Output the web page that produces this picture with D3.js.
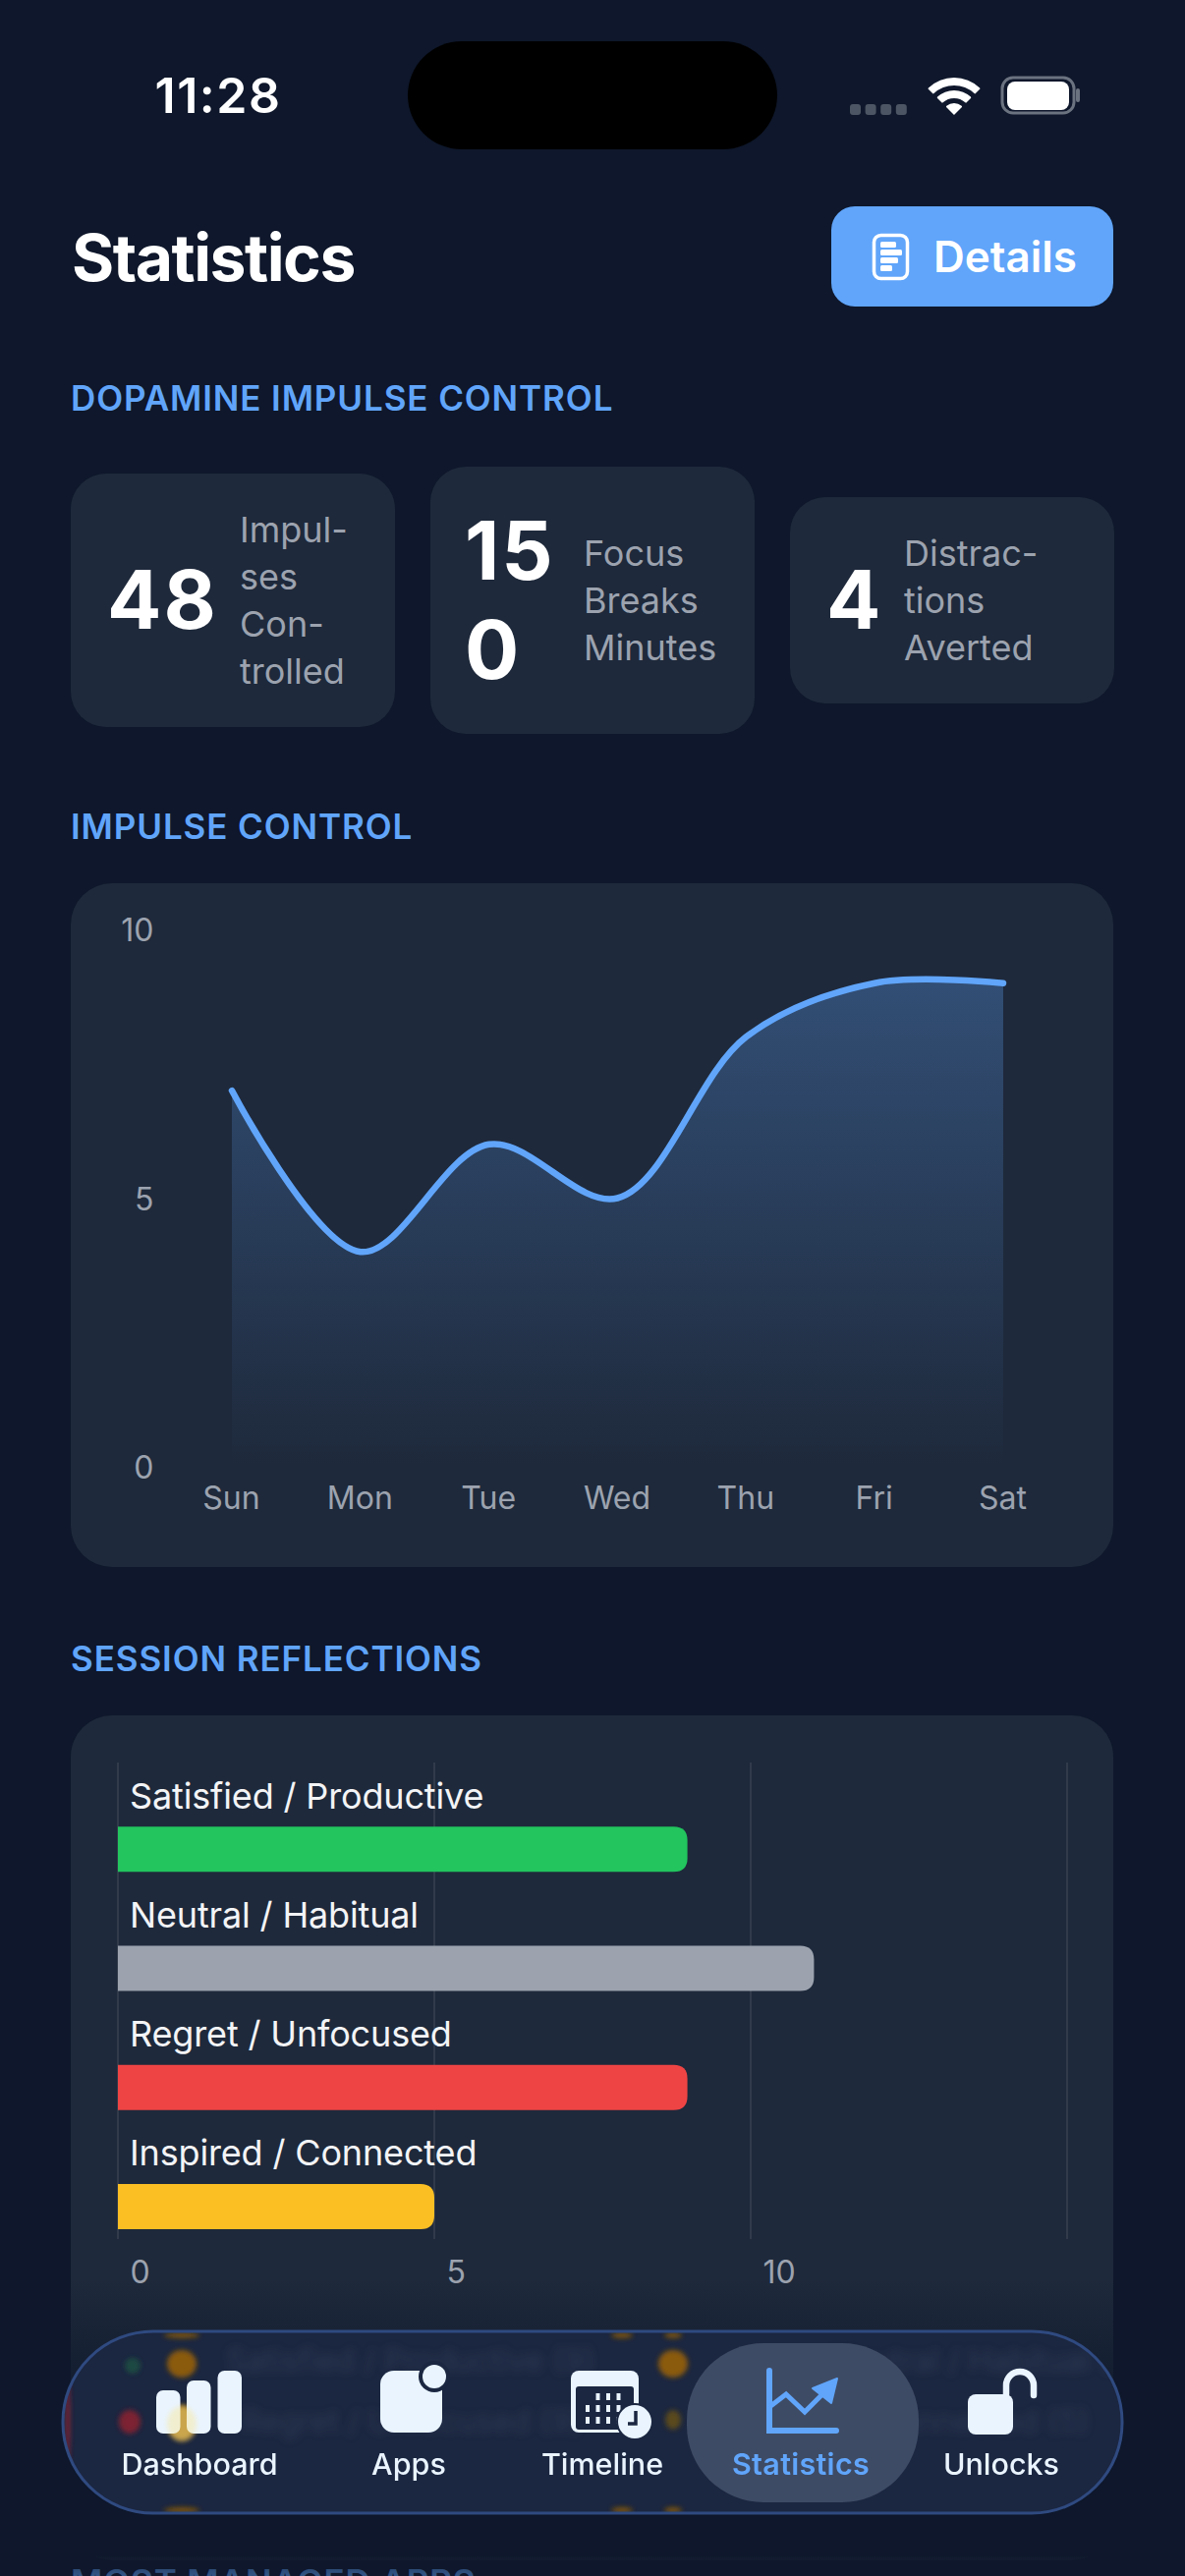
<!DOCTYPE html>
<html>
<head>
<meta charset="utf-8">
<title>Statistics</title>
<script src="https://cdn.jsdelivr.net/npm/d3@7"></script>
<style>
  html, body { margin: 0; padding: 0; background: #0e172b; }
  svg { display: block; font-family: Inter, "Noto Sans", sans-serif; }
  .axis text { fill: #9ca3af; font-size: 32px; font-family: Inter, sans-serif; }
  .axis path, .axis line { display: none; }
  .section { fill: #60a5fa; font-size: 35px; font-weight: 600; letter-spacing: 0.9px; }
</style>
</head>
<body>
<svg id="screen" width="1206" height="2622" viewBox="0 0 1206 2622"></svg>
<script>
// data
const days = ['Sun', 'Mon', 'Tue', 'Wed', 'Thu', 'Fri', 'Sat'];
const impulseValues = [7, 4, 6, 5, 8, 9, 9];
const impulseTicks = [0, 5, 10];

const reflectionLabels = ['Satisfied / Productive', 'Neutral / Habitual', 'Regret / Unfocused', 'Inspired / Connected'];
const reflectionValues = [9, 11, 9, 5];
const reflectionGrid = [0, 5, 10, 15];
const reflectionTicks = [0, 5, 10];

const statValues = [['48'], ['15', '0'], ['4']];
const statLabels = [['Impul-', 'ses', 'Con-', 'trolled'], ['Focus', 'Breaks', 'Minutes'], ['Distrac-', 'tions', 'Averted']];

const navLabels = ['Dashboard', 'Apps', 'Timeline', 'Statistics', 'Unlocks'];

// styles and layout
const BG = '#0e172b';
const CARD = '#1e293b';
const NAV_FILL = '#1b2640';
const BLUE = '#60a5fa';
const ICON = '#e9f4ff';
const BAR_COLORS = ['#22c55e', '#9ca3af', '#ef4444', '#fbbf24'];
const LINE = { x0: 236, x1: 1021, y0: 1493, y1: 946 };
const BARS = { x0: 120, x1: 1086, y0: 1794, y1: 2279 };
const STAT_BOX = [
  { x: 72, y: 482, h: 258, valueX: 109, labelX: 244, valueBase: [640], labelBase: 552 },
  { x: 438, y: 475, h: 272, valueX: 473, labelX: 594, valueBase: [590, 691], labelBase: 575.5 },
  { x: 804, y: 506, h: 210, valueX: 841, labelX: 920, valueBase: [640], labelBase: 575.5 }
];
const NAV_X = [203, 416, 613, 815, 1019];

const svg = d3.select('#screen');
const defs = svg.append('defs');

function gradient(id, y1, y2, stops) {
  const g = defs.append('linearGradient').attr('id', id)
    .attr('gradientUnits', 'userSpaceOnUse')
    .attr('x1', 0).attr('x2', 0).attr('y1', y1).attr('y2', y2);
  stops.forEach(s => g.append('stop').attr('offset', s[0]).attr('stop-color', s[1]).attr('stop-opacity', s[2]));
}

function blur(id, amount) {
  defs.append('filter').attr('id', id).attr('x', '-50%').attr('y', '-50%').attr('width', '200%').attr('height', '200%')
    .append('feGaussianBlur').attr('stdDeviation', amount);
}

function card(x, y, w, h, r) {
  return svg.append('rect').attr('x', x).attr('y', y).attr('width', w).attr('height', h).attr('rx', r).attr('fill', CARD);
}

function section(label, y) {
  svg.append('text').attr('class', 'section').attr('x', 72).attr('y', y).text(label);
}

svg.append('rect').attr('width', 1206).attr('height', 2622).attr('fill', BG);

//STATUS BAR
svg.append('text').attr('x', 222).attr('y', 115).attr('text-anchor', 'middle')
  .attr('fill', '#fff').attr('font-size', 50).attr('font-weight', 600).attr('letter-spacing', 1.5).text('11:28');
svg.append('rect').attr('x', 415).attr('y', 42).attr('width', 376).attr('height', 110).attr('rx', 55).attr('fill', '#000');

d3.range(4).forEach(i => {
  svg.append('rect').attr('x', 865 + i * 15.6).attr('y', 106).attr('width', 11).attr('height', 11).attr('rx', 3).attr('fill', '#4b5563');
});

const wifi = d3.arc().startAngle(-Math.PI / 4).endAngle(Math.PI / 4).cornerRadius(1);
[[30, 38], [17, 25], [0, 12]].forEach(r => {
  svg.append('path').attr('transform', 'translate(971,117)')
    .attr('d', wifi.innerRadius(r[0]).outerRadius(r[1])()).attr('fill', '#fff');
});

svg.append('rect').attr('x', 1020).attr('y', 79).attr('width', 73).attr('height', 36).attr('rx', 11)
  .attr('fill', 'none').attr('stroke', '#6b7280').attr('stroke-width', 3);
svg.append('rect').attr('x', 1025).attr('y', 83).attr('width', 63).attr('height', 29).attr('rx', 8).attr('fill', '#fff');
svg.append('rect').attr('x', 1095).attr('y', 90).attr('width', 4).attr('height', 14).attr('rx', 2).attr('fill', '#6b7280');

//HEADER
svg.append('text').attr('x', 73).attr('y', 286).attr('fill', '#fff').attr('font-size', 66).attr('font-weight', 700)
  .attr('letter-spacing', -1.5).text('Statistics');
svg.append('rect').attr('x', 846).attr('y', 210).attr('width', 287).attr('height', 102).attr('rx', 24).attr('fill', BLUE);
svg.append('rect').attr('x', 889.5).attr('y', 239.5).attr('width', 34).attr('height', 44).attr('rx', 7)
  .attr('fill', 'none').attr('stroke', '#fff').attr('stroke-width', 3.5);
[16, 22, 18, 12].forEach((w, i) => {
  svg.append('rect').attr('x', 896).attr('y', 246 + i * 8).attr('width', w).attr('height', 6).attr('rx', 1.5).attr('fill', '#fff');
});
svg.append('text').attr('x', 950).attr('y', 277).attr('fill', '#fff').attr('font-size', 44).attr('font-weight', 600).text('Details');

//STAT CARDS
section('DOPAMINE IMPULSE CONTROL', 418);
STAT_BOX.forEach((b, i) => {
  card(b.x, b.y, 330, b.h, 36);
  statValues[i].forEach((v, k) => {
    svg.append('text').attr('x', b.valueX).attr('y', b.valueBase[k]).attr('fill', '#fff')
      .attr('font-size', 82).attr('font-weight', 700).attr('letter-spacing', 2).text(v);
  });
  statLabels[i].forEach((l, k) => {
    svg.append('text').attr('x', b.labelX).attr('y', b.labelBase + k * 48).attr('fill', '#9ca3af')
      .attr('font-size', 36).text(l);
  });
});

//LINE CHART
section('IMPULSE CONTROL', 854);
card(72, 899, 1061, 696, 42);

const xDay = d3.scalePoint().domain(days).range([LINE.x0, LINE.x1]);
const yImpulse = d3.scaleLinear().domain([0, 10]).range([LINE.y0, LINE.y1]);

gradient('area-fill', yImpulse(9), yImpulse(0), [[0, BLUE, 0.3], [1, BLUE, 0]]);

const curve = d3.curveCatmullRom.alpha(0.5);
const area = d3.area().x((d, i) => xDay(days[i])).y0(yImpulse(0)).y1(d => yImpulse(d)).curve(curve);
const line = d3.line().x((d, i) => xDay(days[i])).y(d => yImpulse(d)).curve(curve);

svg.append('path').datum(impulseValues).attr('d', area).attr('fill', 'url(#area-fill)');
svg.append('path').datum(impulseValues).attr('d', line).attr('fill', 'none')
  .attr('stroke', BLUE).attr('stroke-width', 6.5).attr('stroke-linecap', 'round');

svg.append('g').attr('class', 'axis').attr('transform', 'translate(156.5,1.5)')
  .call(d3.axisLeft(yImpulse).tickValues(impulseTicks).tickSize(0).tickPadding(0));
svg.append('g').attr('class', 'axis').attr('transform', 'translate(-1,1535.5)')
  .call(d3.axisBottom(xDay).tickSize(0).tickPadding(0))
  .selectAll('text').attr('dy', 0);

//BAR CHART
section('SESSION REFLECTIONS', 1701);
card(72, 1746, 1061, 860, 42);

const xCount = d3.scaleLinear().domain([0, 15]).range([BARS.x0, BARS.x1]);
const yReflect = d3.scaleBand().domain(reflectionLabels).range([BARS.y0, BARS.y1]);
const barColor = d3.scaleOrdinal().domain(reflectionLabels).range(BAR_COLORS);
const BAR_H = 46;

svg.append('g').selectAll('line').data(reflectionGrid).join('line')
  .attr('x1', d => xCount(d)).attr('x2', d => xCount(d))
  .attr('y1', BARS.y0).attr('y2', BARS.y1)
  .attr('stroke', '#374151').attr('stroke-width', 1.5);

svg.append('g').selectAll('path').data(reflectionLabels).join('path')
  .attr('fill', d => barColor(d))
  .attr('d', (d, i) => {
    const x0 = xCount(0), x1 = xCount(reflectionValues[i]), r = 14;
    const top = yReflect(d) + yReflect.bandwidth() - 10 - BAR_H, bot = top + BAR_H;
    return `M${x0},${top}H${x1 - r}Q${x1},${top} ${x1},${top + r}V${bot - r}Q${x1},${bot} ${x1 - r},${bot}H${x0}Z`;
  });

svg.append('g').selectAll('text').data(reflectionLabels).join('text')
  .attr('x', xCount(0) + 12)
  .attr('y', d => yReflect(d) + 46.5)
  .attr('fill', '#f3f4f6').attr('font-size', 36).attr('letter-spacing', -0.15)
  .text(d => d);

svg.append('g').attr('class', 'axis').attr('transform', 'translate(0,2323.5)')
  .call(d3.axisBottom(xCount).tickValues(reflectionTicks).tickSize(0).tickPadding(0))
  .selectAll('text').attr('dy', 0).attr('x', 12).attr('text-anchor', 'start');

// next section, scrolled mostly off screen
section('MOST MANAGED APPS', 2641);

//BOTTOM FADE
gradient('bottom-fade', 2320, 2480, [[0, BG, 0], [1, BG, 1]]);
svg.append('rect').attr('y', 2320).attr('width', 1206).attr('height', 282).attr('fill', 'url(#bottom-fade)');
gradient('bottom-dim', 2590, 2622, [[0, BG, 1], [1, BG, 0.55]]);
svg.append('rect').attr('y', 2590).attr('width', 1206).attr('height', 32).attr('fill', 'url(#bottom-dim)');

//TAB BAR
const NAV = { x: 64, y: 2373, w: 1078, h: 185, r: 92 };
defs.append('clipPath').attr('id', 'nav-clip').append('rect')
  .attr('x', NAV.x).attr('y', NAV.y).attr('width', NAV.w).attr('height', NAV.h).attr('rx', NAV.r);
blur('soft', 2.5);
blur('softer', 5);

svg.append('rect').attr('x', NAV.x).attr('y', NAV.y).attr('width', NAV.w).attr('height', NAV.h).attr('rx', NAV.r)
  .attr('fill', NAV_FILL);

// what shows through the glass
const glass = svg.append('g').attr('clip-path', 'url(#nav-clip)');
const blobs = glass.append('g').attr('filter', 'url(#soft)');
[[185, 2406, 15, 14, '#8a5a0a'], [685, 2406, 15, 14, '#8a5a0a'], [135, 2408, 8, 8, '#1b4a42'],
  [132, 2465, 11, 12, '#7c2233'], [185, 2466, 15, 18, '#a87a20'], [685, 2463, 8, 10, '#5a4a1c'],
  [185, 2377, 18, 3, '#7a5210'], [633, 2377, 11, 3, '#7a5210'], [685, 2377, 9, 3, '#7a5210'],
  [185, 2555, 18, 3, '#7a5210'], [633, 2555, 11, 3, '#7a5210'], [685, 2555, 9, 3, '#7a5210'],
  [69, 2465, 2, 45, '#8a2333']].forEach(b => {
  blobs.append('ellipse').attr('cx', b[0]).attr('cy', b[1]).attr('rx', b[2]).attr('ry', b[3]).attr('fill', b[4]);
});
const blurredText = glass.append('g').attr('filter', 'url(#softer)');
[['Satisfied / Productive (9)', 230, 2414], ['Neutral / Habitual (11)', 846, 2414],
  ['Regret / Unfocused (9)', 246, 2476], ['Inspired / Connected (5)', 740, 2476]].forEach(t => {
  blurredText.append('text').attr('x', t[1]).attr('y', t[2]).attr('font-size', 32).attr('fill', '#8f9db5').attr('opacity', 0.16).text(t[0]);
});

svg.append('rect').attr('x', NAV.x).attr('y', NAV.y).attr('width', NAV.w).attr('height', NAV.h).attr('rx', NAV.r)
  .attr('fill', 'none').attr('stroke', '#2f4a80').attr('stroke-width', 3);
svg.append('rect').attr('x', 699).attr('y', 2385).attr('width', 236).attr('height', 162).attr('rx', 78).attr('fill', '#3e4b64');

svg.append('g').selectAll('text').data(navLabels).join('text')
  .attr('x', (d, i) => NAV_X[i]).attr('y', 2519).attr('text-anchor', 'middle')
  .attr('font-size', 30.5).attr('font-weight', d => d === 'Statistics' ? 600 : 500)
  .attr('letter-spacing', d => d === 'Statistics' ? 0.3 : 0)
  .attr('fill', d => d === 'Statistics' ? BLUE : ICON)
  .text(d => d);

// dashboard icon
[[159, 2433], [190, 2423], [221.5, 2413]].forEach(b => {
  svg.append('rect').attr('x', b[0]).attr('y', b[1]).attr('width', 24.5).attr('height', 2477 - b[1]).attr('rx', 7).attr('fill', ICON);
});
// yellow tint coming through the icon
svg.append('ellipse').attr('cx', 185).attr('cy', 2467).attr('rx', 15).attr('ry', 18)
  .attr('fill', '#fde68a').attr('opacity', 0.4).attr('filter', 'url(#soft)');
// apps icon
svg.append('rect').attr('x', 387).attr('y', 2413).attr('width', 63).attr('height', 63).attr('rx', 14).attr('fill', ICON);
svg.append('circle').attr('cx', 442).attr('cy', 2419).attr('r', 16).attr('fill', NAV_FILL);
svg.append('circle').attr('cx', 442).attr('cy', 2419).attr('r', 12).attr('fill', ICON);
// timeline icon
svg.append('rect').attr('x', 581).attr('y', 2413).attr('width', 69).attr('height', 63).attr('rx', 8).attr('fill', ICON);
svg.append('rect').attr('x', 586).attr('y', 2429).attr('width', 59).attr('height', 44).attr('rx', 3).attr('fill', NAV_FILL);
d3.range(3).forEach(r => d3.range(4).forEach(c => {
  if (r === 0 && c === 0) return;
  svg.append('rect').attr('x', 596 + c * 10.5).attr('y', 2436 + r * 12).attr('width', 4).attr('height', 7).attr('fill', ICON);
}));
svg.append('circle').attr('cx', 646).attr('cy', 2465).attr('r', 19).attr('fill', NAV_FILL);
svg.append('circle').attr('cx', 646).attr('cy', 2465).attr('r', 17).attr('fill', ICON);
svg.append('path').attr('d', 'M647,2454V2467H639').attr('fill', 'none').attr('stroke', NAV_FILL).attr('stroke-width', 3.5);
// statistics icon
svg.append('path').attr('d', 'M783,2413V2474H851').attr('fill', 'none').attr('stroke', BLUE).attr('stroke-width', 6).attr('stroke-linecap', 'round');
svg.append('path').attr('d', 'M783,2450L800,2437L819,2455L838,2436').attr('fill', 'none').attr('stroke', BLUE).attr('stroke-width', 5);
svg.append('path').attr('d', 'M852,2421L827,2431L846,2446Z').attr('fill', BLUE).attr('stroke', BLUE).attr('stroke-width', 2).attr('stroke-linejoin', 'round');
// unlocks icon
svg.append('rect').attr('x', 985).attr('y', 2437).attr('width', 46).attr('height', 41).attr('rx', 8).attr('fill', ICON);
svg.append('path').attr('d', 'M1024,2437V2428A14,14 0 0 1 1052,2428V2438').attr('fill', 'none')
  .attr('stroke', ICON).attr('stroke-width', 6.5).attr('stroke-linecap', 'round');
</script>
</body>
</html>
